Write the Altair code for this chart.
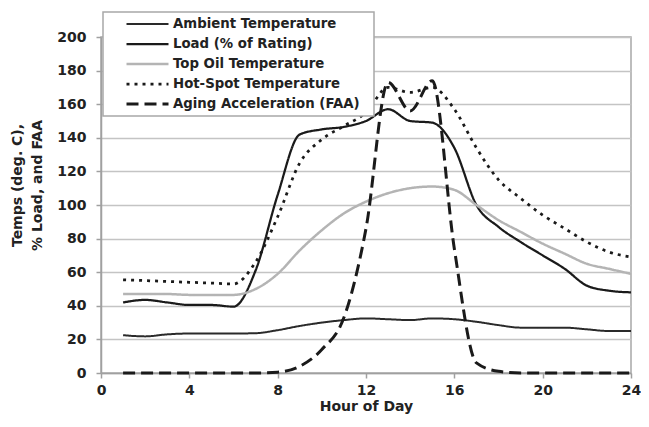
import altair as alt
import pandas as pd

hours = list(range(1, 25))
ambient = [22.5, 21.8, 23, 23.5, 23.5, 23.5, 23.7, 25.5, 28, 30, 31.5, 32.5,
           32, 31.5, 32.5, 32, 30.5, 28.5, 27, 27, 27, 26, 25, 25]
load = [42, 43.5, 42, 40.5, 40.5, 39.5, 61, 106, 142, 145, 146.5, 150,
        157, 150, 149, 134, 100, 87, 78, 70, 62, 52, 49, 48]
top_oil = [47, 47, 47, 46.5, 46.5, 46.5, 50, 59, 73, 85, 95, 102,
           107, 110, 111, 109, 100, 91, 84, 77, 71, 65, 62, 59]
hot_spot = [55.5, 55, 54.5, 54, 53.5, 53, 66, 93, 125, 139, 147, 155,
            170, 167, 170, 157, 134, 115, 104, 94, 86, 78, 72, 69]
faa = [0, 0, 0, 0, 0, 0, 0, 0.5, 4, 14, 33, 86,
       173, 156, 174, 74, 6, 1, 0, 0, 0, 0, 0, 0]

series = ["Ambient Temperature", "Load (% of Rating)", "Top Oil Temperature",
          "Hot-Spot Temperature", "Aging Acceleration (FAA)"]
values = [ambient, load, top_oil, hot_spot, faa]

rows = []
for name, vals in zip(series, values):
    for h, v in zip(hours, vals):
        rows.append({"hour": h, "value": v, "series": name})
df = pd.DataFrame(rows)

FONT = "DejaVu Sans"
LEG = dict(title=None, labelExpr="datum.label + '\u2800'")

chart = alt.Chart(df).mark_line(interpolate="monotone").encode(
    x=alt.X("hour:Q",
            scale=alt.Scale(domain=[0, 24], nice=False, zero=False),
            axis=alt.Axis(title="Hour of Day", values=[0, 4, 8, 12, 16, 20, 24],
                          grid=False, tickSize=5, labelPadding=5,
                          labelFlush=False, titlePadding=2)),
    y=alt.Y("value:Q",
            scale=alt.Scale(domain=[0, 200], nice=False),
            axis=alt.Axis(title=["Temps (deg. C),", "% Load, and FAA"],
                          values=list(range(0, 201, 20)), tickSize=5,
                          labelPadding=10, titlePadding=12,
                          titleY=148, titleLineHeight=20)),
    color=alt.Color("series:N",
                    scale=alt.Scale(domain=series,
                                    range=["#2a2a2a", "#1a1a1a", "#b4b4b4", "#1a1a1a", "#1a1a1a"]),
                    legend=alt.Legend(**LEG)),
    strokeDash=alt.StrokeDash("series:N",
                              scale=alt.Scale(domain=series,
                                              range=[[1, 0], [1, 0], [1, 0], [3, 5], [12, 6]]),
                              legend=alt.Legend(**LEG)),
    strokeWidth=alt.StrokeWidth("series:N",
                                scale=alt.Scale(domain=series,
                                                range=[2, 3, 2.5, 3, 2.5]),
                                legend=alt.Legend(**LEG)),
    detail="series:N",
).properties(
    width=530,
    height=336,
    autosize=alt.AutoSizeParams(type="none"),
    padding={"left": 93, "top": 29, "right": 10, "bottom": 42},
).configure_view(
    stroke="#a8a8a8", strokeWidth=1.5
).configure_axis(
    labelFont=FONT, labelFontWeight="bold", labelFontSize=14, labelColor="#222222",
    titleFont=FONT, titleFontWeight="bold", titleFontSize=14, titleColor="#222222",
    domainColor="#a0a0a0", domainWidth=1.5, tickColor="#a0a0a0", tickWidth=1.5,
    gridColor="#c4c4c4", gridWidth=1.5,
).configure_legend(
    orient="none", legendX=2, legendY=-25,
    labelFont=FONT, labelFontWeight="bold", labelFontSize=13.3, labelColor="#222222",
    symbolType="stroke", symbolSize=1764, clipHeight=16, rowPadding=4,
    padding=4, symbolOffset=18, labelOffset=3,
    fillColor="white", strokeColor="#a8a8a8", strokeWidth=1.5,
    labelLimit=300,
)

chart.save("out.html", embed_options={"renderer": "svg", "actions": False})
